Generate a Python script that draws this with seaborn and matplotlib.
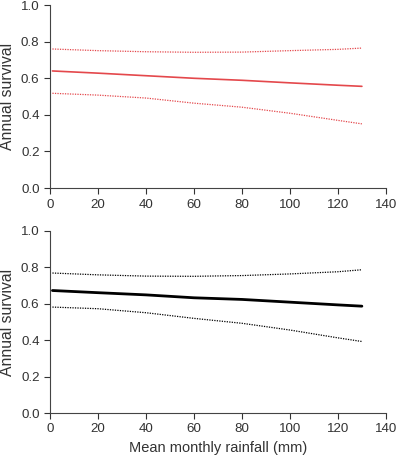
import numpy as np
import matplotlib
matplotlib.use("Agg")
import matplotlib.pyplot as plt
import seaborn as sns
import pandas as pd

# Mean monthly rainfall (mm) sample points
rainfall = [1, 20, 40, 60, 80, 100, 120, 130]

# Top panel (red): estimate with upper / lower confidence limits
top_mean = [0.640, 0.628, 0.614, 0.600, 0.589, 0.575, 0.562, 0.556]
top_upper = [0.760, 0.751, 0.745, 0.742, 0.743, 0.751, 0.758, 0.765]
top_lower = [0.518, 0.508, 0.492, 0.464, 0.442, 0.409, 0.370, 0.351]

# Bottom panel (black)
bot_mean = [0.673, 0.661, 0.649, 0.633, 0.624, 0.609, 0.594, 0.587]
bot_upper = [0.769, 0.759, 0.752, 0.751, 0.755, 0.764, 0.776, 0.787]
bot_lower = [0.582, 0.573, 0.551, 0.520, 0.493, 0.456, 0.413, 0.393]

x_ticks = [0, 20, 40, 60, 80, 100, 120, 140]
y_ticks = [0.0, 0.2, 0.4, 0.6, 0.8, 1.0]

sns.set_style("ticks")
plt.rcParams['font.family'] = ['Liberation Sans', 'DejaVu Sans']

fig = plt.figure(figsize=(3.97, 4.61), dpi=100)
ax_top = fig.add_axes([0.126, 0.592, 0.846, 0.397])
ax_bot = fig.add_axes([0.126, 0.104, 0.846, 0.395])

panels = [
    (ax_top, top_mean, top_upper, top_lower, "#e4484c", 1.2),
    (ax_bot, bot_mean, bot_upper, bot_lower, "black", 2.0),
]

for ax, mean, upper, lower, color, lw in panels:
    df = pd.DataFrame({"rain": rainfall, "mean": mean, "upper": upper, "lower": lower})
    sns.lineplot(data=df, x="rain", y="mean", ax=ax, color=color, linewidth=lw)
    sns.lineplot(data=df, x="rain", y="upper", ax=ax, color=color, linewidth=0.9,
                 linestyle=(0, (1, 1)))
    sns.lineplot(data=df, x="rain", y="lower", ax=ax, color=color, linewidth=0.9,
                 linestyle=(0, (1, 1)))
    ax.set_xlim(0, 140)
    ax.set_ylim(0, 1.0)
    ax.set_xticks(x_ticks)
    ax.set_yticks(y_ticks)
    ax.set_yticklabels([f"{v:.1f}" for v in y_ticks])
    ax.set_ylabel("Annual survival", fontsize=11.3, color="#333333")
    ax.set_xlabel("")
    ax.tick_params(labelsize=9.6, colors="#333333", length=4, width=0.8, direction="out")
    for s in ["left", "bottom"]:
        ax.spines[s].set_color("#444444")
        ax.spines[s].set_linewidth(0.8)
    sns.despine(ax=ax)

ax_bot.set_xlabel("Mean monthly rainfall (mm)", fontsize=10.5, color="#333333")

fig.savefig("out.png", dpi=100)
